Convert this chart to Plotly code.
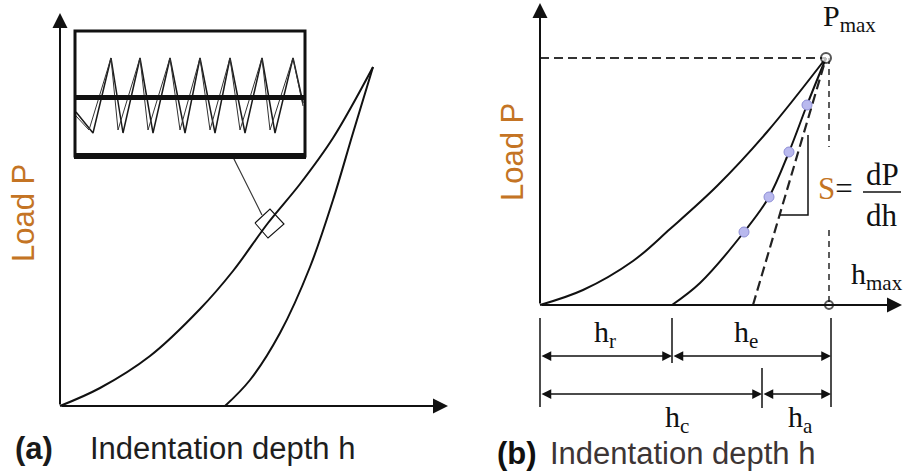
import plotly.graph_objects as go

# ---------------- data (schematic units: offsets from each panel's origin) ----
# Panel (a): loading / unloading curves and the magnified serrated segment
a_load_h = [0, 40, 90, 140, 173, 208, 240, 273, 313]
a_load_P = [0, 18, 50, 97, 135, 183, 222, 268, 339]
a_unload_h = [165, 190, 220, 250, 273, 293, 313]
a_unload_P = [0, 26, 73, 139, 206, 273, 339]
# serrations: reload strokes (trough -> peak) and unload strokes (peak -> trough)
a_inset_h = [16, 33, 51, 63, 80, 93, 110, 125, 140, 155, 170, 185, 202, 215, 233, 243]
a_inset_P = [294, 273, 348, 273, 348, 273, 348, 273, 348, 273, 348, 273, 348, 273, 348, 303]
a_inset2_h = [16, 29, 51, 58, 80, 88, 110, 120, 140, 150, 170, 180, 202, 210, 233, 243]
a_inset2_P = [290, 276, 348, 276, 348, 276, 348, 276, 348, 276, 348, 276, 348, 276, 348, 300]
a_marker_h = [195, 210, 224, 208, 195]
a_marker_P = [183, 197, 182, 168, 183]
a_leader_h = [173, 202]
a_leader_P = [249, 191]

# Panel (b): Oliver-Pharr schematic
b_load_h = [0, 43, 93, 130, 177, 227, 286]
b_load_P = [0, 15, 44, 76, 119, 173, 247]
b_unload_h = [132, 160, 204, 229, 249, 267, 286]
b_unload_P = [0, 22, 73, 108, 153, 200, 247]
b_fit_h = [204, 229, 249, 267]
b_fit_P = [73, 108, 153, 200]
b_tangent_h = [213, 286]
b_tangent_P = [0, 247]
P_max = 247
h_Pmax = 286
h_max = 289
h_r = 132
h_c = 222
h_end = 291

INK = "#111111"
ORANGE = "#c47424"
SANS = "Liberation Sans, Arial, sans-serif"
SERIF = "Liberation Serif, Times New Roman, serif"

fig = go.Figure()

def line(xs, ys, xa, ya, width=2, dash=None, color=INK, shape="linear"):
    fig.add_trace(go.Scatter(x=xs, y=ys, xaxis=xa, yaxis=ya, mode="lines",
                             line=dict(color=color, width=width, dash=dash, shape=shape),
                             hoverinfo="skip", showlegend=False))

# panel (a)
line(a_load_h, a_load_P, "x", "y", 2, shape="spline")
line(a_unload_h, a_unload_P, "x", "y", 2, shape="spline")
line(a_inset_h, a_inset_P, "x", "y", 1.5, color="#1a1a1a")
line(a_inset2_h, a_inset2_P, "x", "y", 1.0, color="#333333")
line(a_marker_h, a_marker_P, "x", "y", 1.1)
line(a_leader_h, a_leader_P, "x", "y", 1.2, color="#333333")

# panel (b)
line([0, h_Pmax], [P_max, P_max], "x2", "y2", 2, dash="9px,5px", color="#333333")
line([h_max, h_max], [P_max, 158], "x2", "y2", 1.6, dash="6px,5px", color="#333333")
line([h_max, h_max], [75, 0], "x2", "y2", 1.6, dash="6px,5px", color="#333333")
line(b_load_h, b_load_P, "x2", "y2", 2, shape="spline")
line(b_unload_h, b_unload_P, "x2", "y2", 2, shape="spline")
line(b_tangent_h, b_tangent_P, "x2", "y2", 2.2, dash="10px,5px", color="#222222")
line([240, 268, 268], [90, 90, 170], "x2", "y2", 1.5)
fig.add_trace(go.Scatter(x=b_fit_h, y=b_fit_P, xaxis="x2", yaxis="y2", mode="markers",
                         marker=dict(size=10, color="#b9b9ee", line=dict(color="#8f8fd6", width=1)),
                         hoverinfo="skip", showlegend=False))
fig.add_trace(go.Scatter(x=[h_Pmax, h_max], y=[P_max, 0], xaxis="x2", yaxis="y2", mode="markers",
                         marker=dict(size=[10, 8], color="white", line=dict(color=INK, width=2)),
                         hoverinfo="skip", showlegend=False))
# dimension ticks
for hx, y0, y1 in [(0, -13, -102), (h_r, -13, -58), (h_end, -13, -102), (h_c, -63, -103)]:
    line([hx, hx], [y0, y1], "x2", "y2", 1.5)

ann = []

def arrow(x0, y0, x1, y1, xa, ya, width=2, size=1.0, both=False):
    d = dict(x=x1, y=y1, ax=x0, ay=y0, xref=xa, yref=ya, axref=xa, ayref=ya,
             text="", showarrow=True, arrowhead=2, arrowsize=size, arrowwidth=width,
             arrowcolor=INK, standoff=0, startstandoff=0)
    if both:
        d.update(arrowside="end+start", startarrowhead=2, startarrowsize=size)
    ann.append(d)

def text(x, y, s, xa, ya, size, family=SANS, color=INK, xanchor="center", angle=0):
    ann.append(dict(x=x, y=y, xref=xa, yref=ya, text=s, showarrow=False,
                    xanchor=xanchor, yanchor="middle", textangle=angle,
                    font=dict(size=size, family=family, color=color)))

# axes with arrows
arrow(0, 0, 0, 393, "x", "y", 2, 1.5)
arrow(0, 0, 388, 0, "x", "y", 2, 1.5)
arrow(0, 0, 0, 302, "x2", "y2", 2, 1.5)
arrow(0, 0, 362, 0, "x2", "y2", 2, 1.5)
# dimension arrows
arrow(0, -51, h_r, -51, "x2", "y2", 1.5, 1.3, both=True)
arrow(h_r, -51, h_end, -51, "x2", "y2", 1.5, 1.3, both=True)
arrow(0, -89, h_c, -89, "x2", "y2", 1.5, 1.3, both=True)
arrow(h_c, -89, h_end, -89, "x2", "y2", 1.5, 1.3, both=True)

# texts panel (a)
text(-37, 193, "Load P", "x", "y", 31, color=ORANGE, angle=-90)
text(-47, -42, "<b>(a)</b>", "x", "y", 31, xanchor="left", color="#1a1a1a")
text(28, -42, "Indentation depth h", "x", "y", 31, xanchor="left", color="#1e1e1e")

# texts panel (b)
text(-28, 153, "Load P", "x2", "y2", 31, color=ORANGE, angle=-90)
text(-45, -148, "<b>(b)</b>", "x2", "y2", 31, xanchor="left", color="#111111")
text(8, -148, "Indentation depth h", "x2", "y2", 31, xanchor="left", color="#3d3535")
text(281, 287, "P<sub>max</sub>", "x2", "y2", 30, family=SERIF, xanchor="left")
text(309, 29, "h<sub>max</sub>", "x2", "y2", 30, family=SERIF, xanchor="left")
text(276, 117, "<span style='color:%s'>S</span>=" % ORANGE, "x2", "y2", 31, family=SERIF, xanchor="left")
text(342, 131, "dP", "x2", "y2", 31, family=SERIF)
text(342, 90, "dh", "x2", "y2", 31, family=SERIF)
line([323, 361], [113, 113], "x2", "y2", 1.5)
text(65, -29, "h<sub>r</sub>", "x2", "y2", 30, family=SERIF)
text(206, -29, "h<sub>e</sub>", "x2", "y2", 30, family=SERIF)
text(137, -114, "h<sub>c</sub>", "x2", "y2", 30, family=SERIF)
text(260, -114, "h<sub>a</sub>", "x2", "y2", 30, family=SERIF)

shapes = [
    dict(type="rect", xref="x", yref="y", x0=15, x1=245, y0=250, y1=375,
         line=dict(color=INK, width=3)),
    dict(type="line", xref="x", yref="y", x0=14, x1=246, y0=250, y1=250,
         line=dict(color=INK, width=6)),
    dict(type="line", xref="x", yref="y", x0=15, x1=245, y0=308.5, y1=308.5,
         line=dict(color=INK, width=5)),
]

ax_common = dict(visible=False, showgrid=False, zeroline=False, fixedrange=True)
fig.update_layout(
    width=904, height=474,
    margin=dict(l=0, r=0, t=0, b=0),
    paper_bgcolor="white", plot_bgcolor="white",
    xaxis=dict(domain=[0, 0.5], range=[-60, 392], **ax_common),
    yaxis=dict(domain=[0, 1], range=[-68, 406], anchor="x", **ax_common),
    xaxis2=dict(domain=[0.5, 1], range=[-88, 364], anchor="y2", **ax_common),
    yaxis2=dict(domain=[0, 1], range=[-169, 305], anchor="x2", **ax_common),
    annotations=ann,
    shapes=shapes,
    showlegend=False,
)

fig.write_html("out.html")
